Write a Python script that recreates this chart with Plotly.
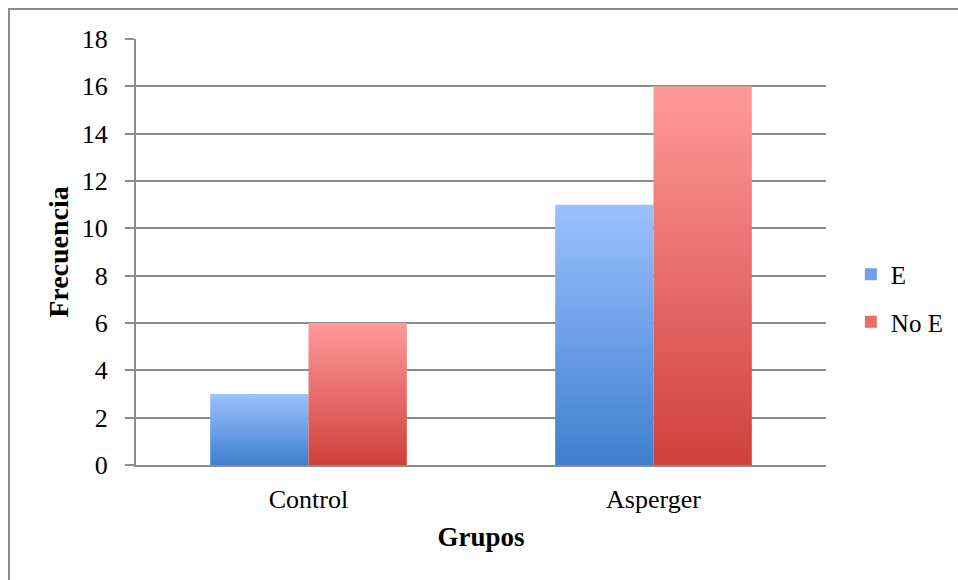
import plotly.graph_objects as go

# Data
categories = ["Control", "Asperger"]
series_names = ["E", "No E"]
values_e = [3, 11]
values_no_e = [6, 16]
y_ticks = [0, 2, 4, 6, 8, 10, 12, 14, 16, 18]

# Styling
FONT = "Liberation Serif"
grad_e = [[0, "#3f7fcf"], [1, "#9bc1ff"]]
grad_no_e = [[0, "#d0403d"], [1, "#ff9a9a"]]
swatch = {"E": "#6fa0ea", "No E": "#ea6e6c"}
bar_w = 0.285  # width of one bar, in category units

fig = go.Figure()


def add_bar(x0, x1, val, name, scale):
    fig.add_trace(go.Scatter(
        x=[x0, x1, x1, x0, x0], y=[0, 0, val, val, 0],
        mode="lines", line=dict(width=0), fill="toself",
        fillgradient=dict(type="vertical", colorscale=scale, start=0, stop=val),
        name=name, legendgroup=name, showlegend=False, hoverinfo="skip",
    ))


for i, cat in enumerate(categories):
    add_bar(i - bar_w, i, values_e[i], series_names[0], grad_e)
    add_bar(i, i + bar_w, values_no_e[i], series_names[1], grad_no_e)

# Legend entries
for name in series_names:
    fig.add_trace(go.Scatter(
        x=[None], y=[None], mode="markers", name=name, legendgroup=name,
        marker=dict(symbol="square", size=13, color=swatch[name],
                    line=dict(width=0)),
    ))

fig.update_layout(
    width=958, height=580,
    margin=dict(l=136, r=132, t=39, b=115, autoexpand=False),
    paper_bgcolor="white", plot_bgcolor="white",
    font=dict(family=FONT, size=26, color="black"),
    showlegend=True,
    legend=dict(x=1.036, y=(465 - 298) / 426, xanchor="left", yanchor="middle",
                font=dict(size=25), tracegroupgap=12, itemsizing="constant",
                itemwidth=30, bgcolor="rgba(0,0,0,0)"),
    xaxis=dict(
        range=[-0.5, 1.5], tickvals=list(range(len(categories))),
        ticktext=categories, showgrid=False, zeroline=False,
        showline=True, linecolor="#8c8c8c", linewidth=2, ticks="",
        title=dict(text="<b>Grupos</b>", font=dict(size=27), standoff=14),
        ticklabelstandoff=10, fixedrange=True,
    ),
    yaxis=dict(
        range=[0, 18], tickvals=y_ticks, showgrid=True, gridcolor="#8c8c8c",
        gridwidth=2, zeroline=False, showline=True, linecolor="#8c8c8c",
        linewidth=2, ticks="outside", ticklen=9, tickwidth=2,
        tickcolor="#8c8c8c", ticklabelstandoff=12,
        title=dict(text="<b>Frecuencia</b>", font=dict(size=28), standoff=5),
        fixedrange=True,
    ),
)

# Chart frame (top and left edges lie inside the page)
fig.add_shape(type="rect", xref="paper", yref="paper",
              x0=-127 / 690, x1=(958 - 136 + 60) / 690,
              y0=-200 / 426, y1=(465 - 9) / 426,
              line=dict(color="#8c8c8c", width=2), layer="below")

fig.write_html("out.html")
